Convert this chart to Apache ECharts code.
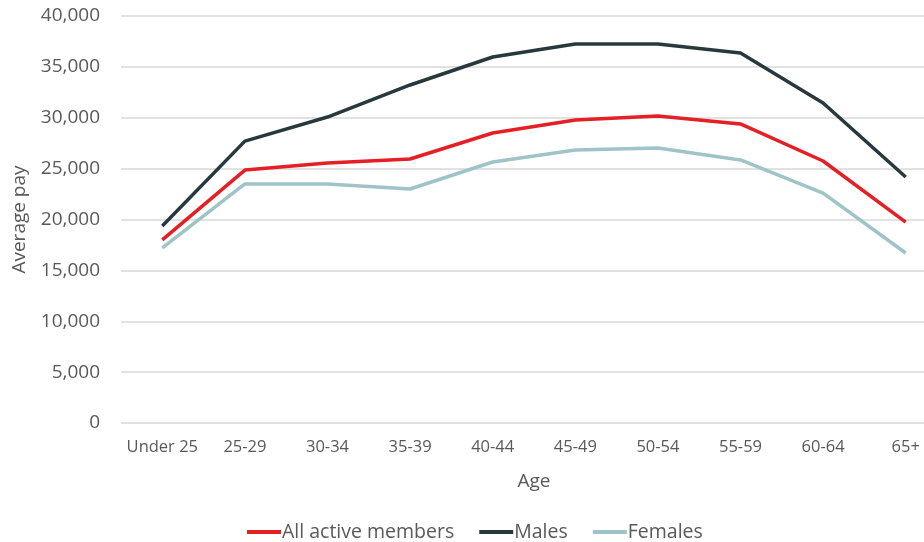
<!DOCTYPE html>
<html><head><meta charset="utf-8">
<script src="https://cdn.jsdelivr.net/npm/echarts@6/dist/echarts.min.js"></script>
<style>html,body{margin:0;padding:0;background:#fff}#c{width:924px;height:542px}</style>
</head><body><div id="c"></div>
<script>
const categories = ["Under 25","25-29","30-34","35-39","40-44","45-49","50-54","55-59","60-64","65+"];
const allMembers = [18000,24860,25550,25950,28500,29780,30170,29390,25750,19750];
const males = [19360,27700,30070,33220,35970,37250,37250,36360,31450,24180];
const females = [17200,23490,23490,23000,25650,26830,27030,25850,22600,16710];
const yTicks = {min:0,max:40000,interval:5000};
const font = "'Open Sans', 'Noto Sans', sans-serif";
const chart = echarts.init(document.getElementById('c'), null, {renderer:'canvas'});
chart.setOption({
  animation:false,
  textStyle:{fontFamily:font},
  grid:{left:121,right:-23,top:16,bottom:119,containLabel:false,outerBoundsMode:'none'},
  legend:{top:517,left:242,itemWidth:34,itemHeight:4,itemGap:25,icon:'rect',
    textStyle:{fontSize:19.5,color:'#595959',fontFamily:font,padding:[0,0,0,-4]},
    data:['All active members','Males','Females']},
  xAxis:{type:'category',data:categories,boundaryGap:true,
    name:'Age',nameLocation:'middle',nameGap:49,nameTextStyle:{fontSize:19,color:'#595959'},
    axisLine:{show:false},axisTick:{show:false},
    axisLabel:{fontSize:16.5,color:'#595959',margin:16,interval:0}},
  yAxis:{type:'value',min:yTicks.min,max:yTicks.max,interval:yTicks.interval,
    name:'Average pay',nameLocation:'middle',nameGap:92,nameTextStyle:{fontSize:19,color:'#595959'},
    axisLine:{show:false},axisTick:{show:false},
    axisLabel:{fontSize:19,color:'#595959',margin:21,formatter:v=>v.toLocaleString('en-US')},
    splitLine:{lineStyle:{color:'#d9d9d9',width:1.5}}},
  series:[
    {name:'All active members',type:'line',data:allMembers,symbol:'none',lineStyle:{width:3.5,color:'#e41f25'},itemStyle:{color:'#e41f25'},z:3},
    {name:'Males',type:'line',data:males,symbol:'none',lineStyle:{width:3.5,color:'#28393e'},itemStyle:{color:'#28393e'},z:2},
    {name:'Females',type:'line',data:females,symbol:'none',lineStyle:{width:3.5,color:'#9ec4c7'},itemStyle:{color:'#9ec4c7'},z:1}
  ]
});
</script></body></html>
